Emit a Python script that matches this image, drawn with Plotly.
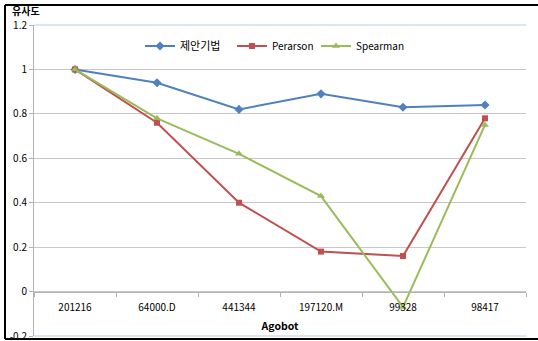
import plotly.graph_objects as go

categories = ["201216", "64000.D", "441344", "197120.M", "99328", "98417"]
proposed = [1.00, 0.94, 0.82, 0.89, 0.83, 0.84]
pearson = [1.00, 0.76, 0.40, 0.18, 0.16, 0.78]
spearman = [1.00, 0.78, 0.62, 0.43, -0.07, 0.75]
y_ticks = [-0.2, 0, 0.2, 0.4, 0.6, 0.8, 1, 1.2]
y_tick_text = ["-0.2", "0", "0.2", "0.4", "0.6", "0.8", "1", "1.2"]

FONT = "Noto Sans CJK KR, Liberation Sans, sans-serif"
W, H = 538, 341
ML, MR, MT, MB = 34, 12, 25, 5
pw, ph = W - ML - MR, H - MT - MB


def px_x(x):
    return (x - ML) / pw


def px_y(y):
    return 1 - (y - MT) / ph


fig = go.Figure()
series = [
    ("제안기법", proposed, "#4F81BD", "diamond", 7, "legend", 140),
    ("Perarson", pearson, "#C0504D", "square", 6, "legend2", 232),
    ("Spearman", spearman, "#9BBB59", "triangle-up", 7, "legend3", 316),
]
legends = {}
for name, vals, color, sym, size, leg, lx in series:
    fig.add_trace(go.Scatter(
        x=categories, y=vals, name=name, mode="lines+markers",
        line=dict(color=color, width=2),
        marker=dict(symbol=sym, size=size, color=color),
        legend=leg,
    ))
    legends[leg] = dict(
        orientation="h", x=px_x(lx), y=px_y(46), xanchor="left", yanchor="middle",
        font=dict(size=11 if leg == "legend" else 10), bgcolor="rgba(0,0,0,0)",
        borderwidth=0,
    )

y0, y1 = -0.2, 1.2
zero_frac = (0 - y0) / (y1 - y0)

shapes = [
    # light blue top and bottom edges of the plot area
    dict(type="line", xref="paper", yref="paper", x0=0, x1=1, y0=1, y1=1,
         line=dict(color="#B9CDE0", width=1)),
    dict(type="line", xref="paper", yref="paper", x0=0, x1=1, y0=0, y1=0,
         line=dict(color="#B9CDE0", width=1)),
    # outer frame of the chart
    dict(type="line", xref="paper", yref="paper", x0=px_x(5), x1=px_x(540),
         y0=px_y(5), y1=px_y(5), line=dict(color="black", width=2)),
    dict(type="line", xref="paper", yref="paper", x0=px_x(5), x1=px_x(540),
         y0=px_y(339), y1=px_y(339), line=dict(color="black", width=2)),
    dict(type="line", xref="paper", yref="paper", x0=px_x(5), x1=px_x(5),
         y0=px_y(5), y1=px_y(339), line=dict(color="black", width=2)),
]

fig.update_layout(
    width=W, height=H,
    margin=dict(l=ML, r=MR, t=MT, b=MB),
    paper_bgcolor="white", plot_bgcolor="white",
    font=dict(family=FONT, size=10, color="black"),
    showlegend=True,
    xaxis=dict(
        type="category", anchor="free", position=zero_frac,
        range=[-0.5, len(categories) - 0.5], automargin=False,
        showline=True, linecolor="#B3B3B3", linewidth=1,
        ticks="outside", ticklen=4, tickcolor="#B3B3B3", tickson="boundaries",
        ticklabelstandoff=6,
        showgrid=False, zeroline=False,
        tickfont=dict(size=10),
        title=dict(text="<b>Agobot</b>", font=dict(size=10.5), standoff=10),
    ),
    yaxis=dict(
        range=[y0, y1], tickvals=y_ticks, ticktext=y_tick_text, automargin=False,
        showline=True, linecolor="#B3B3B3", linewidth=1,
        ticks="outside", ticklen=4, tickcolor="#B3B3B3",
        ticklabeloverflow="allow",
        showgrid=True, gridcolor="#C8C8C8", gridwidth=1,
        zeroline=False, tickfont=dict(size=10),
    ),
    shapes=shapes,
    annotations=[
        dict(text="<b>유사도</b>", xref="paper", yref="paper",
             x=px_x(10), y=px_y(10), xanchor="left", yanchor="middle",
             showarrow=False, font=dict(size=10)),
    ],
    **legends,
)

fig.write_html("out.html")
